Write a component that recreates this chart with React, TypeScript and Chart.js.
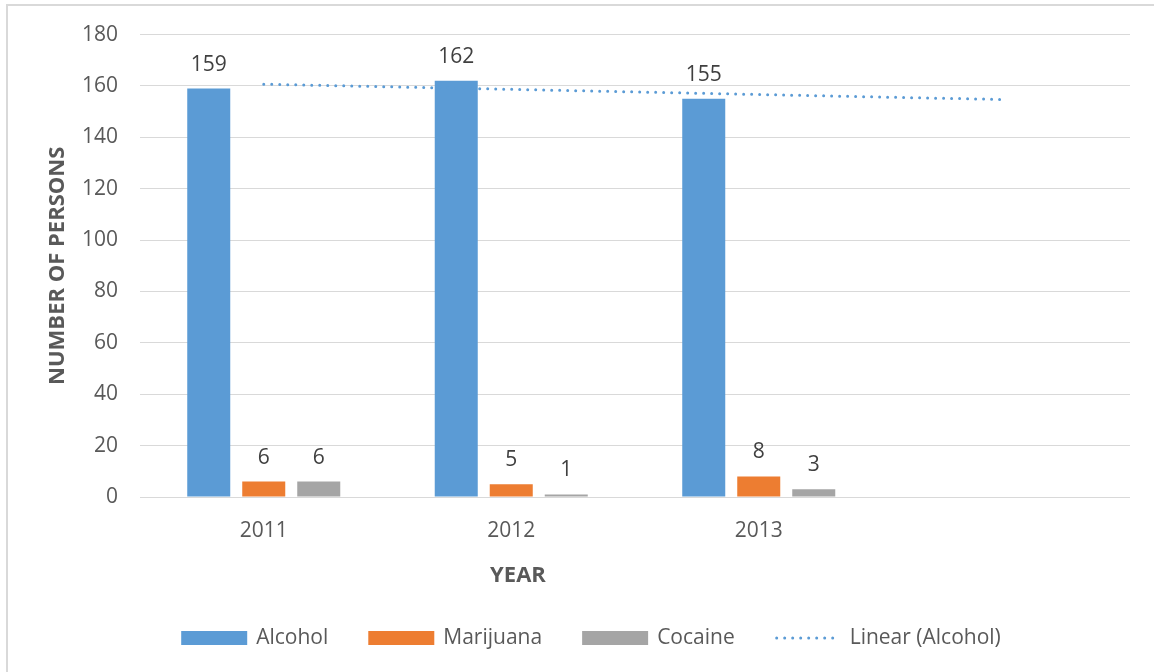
import React, { useEffect, useRef } from 'react';
import { Chart, registerables } from 'chart.js';

Chart.register(...registerables);

const categories = ['2011', '2012', '2013', ''];
const alcohol = [159, 162, 155, null];
const marijuana = [6, 5, 8, null];
const cocaine = [6, 1, 3, null];
const alcoholTrend = [160.7, 158.7, 156.7, 154.7];
const seriesNames = ['Alcohol', 'Marijuana', 'Cocaine', 'Linear (Alcohol)'];
const seriesColors = ['#5b9bd5', '#ed7d31', '#a5a5a5', '#5b9bd5'];
const yMin = 0;
const yMax = 180;
const yStep = 20;
const xTitle = 'YEAR';
const yTitle = 'NUMBER OF PERSONS';

const FONT = '"Open Sans", sans-serif';
const TICK_COLOR = '#595959';

const framePlugin = {
  id: 'frame',
  beforeDraw(chart: any) {
    const ctx = chart.ctx;
    ctx.save();
    ctx.fillStyle = '#ffffff';
    ctx.fillRect(0, 0, chart.width, chart.height);
    ctx.strokeStyle = '#d9d9d9';
    ctx.lineWidth = 2;
    ctx.strokeRect(7, 5, chart.width + 20, chart.height + 20);
    ctx.restore();
  },
};

const labelsPlugin = {
  id: 'valueLabels',
  afterDatasetsDraw(chart: any) {
    const ctx = chart.ctx;
    ctx.save();
    ctx.font = `21px ${FONT}`;
    ctx.fillStyle = '#404040';
    ctx.textAlign = 'center';
    ctx.textBaseline = 'middle';
    chart.data.datasets.forEach((ds: any, i: number) => {
      if (ds.type === 'line') return;
      const meta = chart.getDatasetMeta(i);
      meta.data.forEach((el: any, j: number) => {
        const v = ds.data[j];
        if (v === null || v === undefined) return;
        ctx.fillText(String(v), el.x, el.y - 24);
      });
    });
    ctx.restore();
  },
};

const titlesLegendPlugin = {
  id: 'titlesLegend',
  afterDraw(chart: any) {
    const ctx = chart.ctx;
    const area = chart.chartArea;
    ctx.save();
    // axis titles
    ctx.font = `bold 22px ${FONT}`;
    ctx.fillStyle = TICK_COLOR;
    ctx.textAlign = 'center';
    ctx.textBaseline = 'middle';
    ctx.fillText(xTitle, 518, 576);
    ctx.save();
    ctx.translate(58, (area.top + area.bottom) / 2);
    ctx.rotate(-Math.PI / 2);
    ctx.fillText(yTitle, 0, 0);
    ctx.restore();

    // legend
    ctx.font = `21px ${FONT}`;
    const boxW = 66;
    const boxH = 14;
    const gapText = 9;
    const gapItem = 40;
    const items = chart.data.datasets.map((ds: any) => ({
      label: ds.label,
      color: ds.type === 'line' ? ds.borderColor : ds.backgroundColor,
      line: ds.type === 'line',
      w: ctx.measureText(ds.label).width,
    }));
    const total =
      items.reduce((s: number, it: any) => s + boxW + gapText + it.w, 0) +
      gapItem * (items.length - 1);
    let x = 591 - total / 2;
    const cy = 638;
    items.forEach((it: any) => {
      if (it.line) {
        ctx.save();
        ctx.strokeStyle = it.color;
        ctx.lineWidth = 3;
        ctx.lineCap = 'round';
        ctx.setLineDash([0, 8]);
        ctx.beginPath();
        ctx.moveTo(x + 2, cy);
        ctx.lineTo(x + boxW, cy);
        ctx.stroke();
        ctx.restore();
      } else {
        ctx.fillStyle = it.color;
        ctx.fillRect(x, cy - boxH / 2, boxW, boxH);
      }
      ctx.fillStyle = TICK_COLOR;
      ctx.textAlign = 'left';
      ctx.textBaseline = 'middle';
      ctx.fillText(it.label, x + boxW + gapText, cy);
      x += boxW + gapText + it.w + gapItem;
    });
    ctx.restore();
  },
};

export default function App() {
  const canvasRef = useRef<HTMLCanvasElement | null>(null);

  useEffect(() => {
    document.body.style.margin = '0';
    const canvas = canvasRef.current;
    if (!canvas) return;
    const barCommon = {
      categoryPercentage: 0.6667,
      barPercentage: 0.782,
      borderWidth: 0,
      order: 1,
    };
    const chart = new Chart(canvas, {
      type: 'bar',
      data: {
        labels: categories,
        datasets: [
          { type: 'bar', label: seriesNames[0], data: alcohol, backgroundColor: seriesColors[0], ...barCommon },
          { type: 'bar', label: seriesNames[1], data: marijuana, backgroundColor: seriesColors[1], ...barCommon },
          { type: 'bar', label: seriesNames[2], data: cocaine, backgroundColor: seriesColors[2], ...barCommon },
          {
            type: 'line',
            label: seriesNames[3],
            data: alcoholTrend,
            borderColor: seriesColors[3],
            backgroundColor: seriesColors[3],
            borderWidth: 3,
            borderDash: [0, 8],
            borderCapStyle: 'round',
            pointRadius: 0,
            fill: false,
            tension: 0,
            order: 0,
          },
        ] as any,
      },
      options: {
        animation: false,
        responsive: false,
        maintainAspectRatio: false,
        layout: { padding: { top: 34, right: 24, left: 0, bottom: 0 } },
        plugins: {
          legend: { display: false },
          tooltip: { enabled: false },
        },
        scales: {
          x: {
            grid: { display: false },
            border: { display: false },
            ticks: { font: { family: FONT, size: 21 }, color: TICK_COLOR, padding: 13 },
            afterFit: (s: any) => {
              s.height = 175;
            },
          },
          y: {
            min: yMin,
            max: yMax,
            ticks: { stepSize: yStep, font: { family: FONT, size: 21 }, color: TICK_COLOR, padding: 22 },
            grid: { color: '#d9d9d9', drawTicks: false, lineWidth: 1 },
            border: { display: false },
            afterFit: (s: any) => {
              s.width = 140;
            },
          },
        },
      } as any,
      plugins: [framePlugin, labelsPlugin, titlesLegendPlugin],
    });
    return () => chart.destroy();
  }, []);

  return (
    <div style={{ width: 1154, height: 672, position: 'relative' }}>
      <canvas ref={canvasRef} width={1154} height={672} style={{ display: 'block' }} />
    </div>
  );
}
